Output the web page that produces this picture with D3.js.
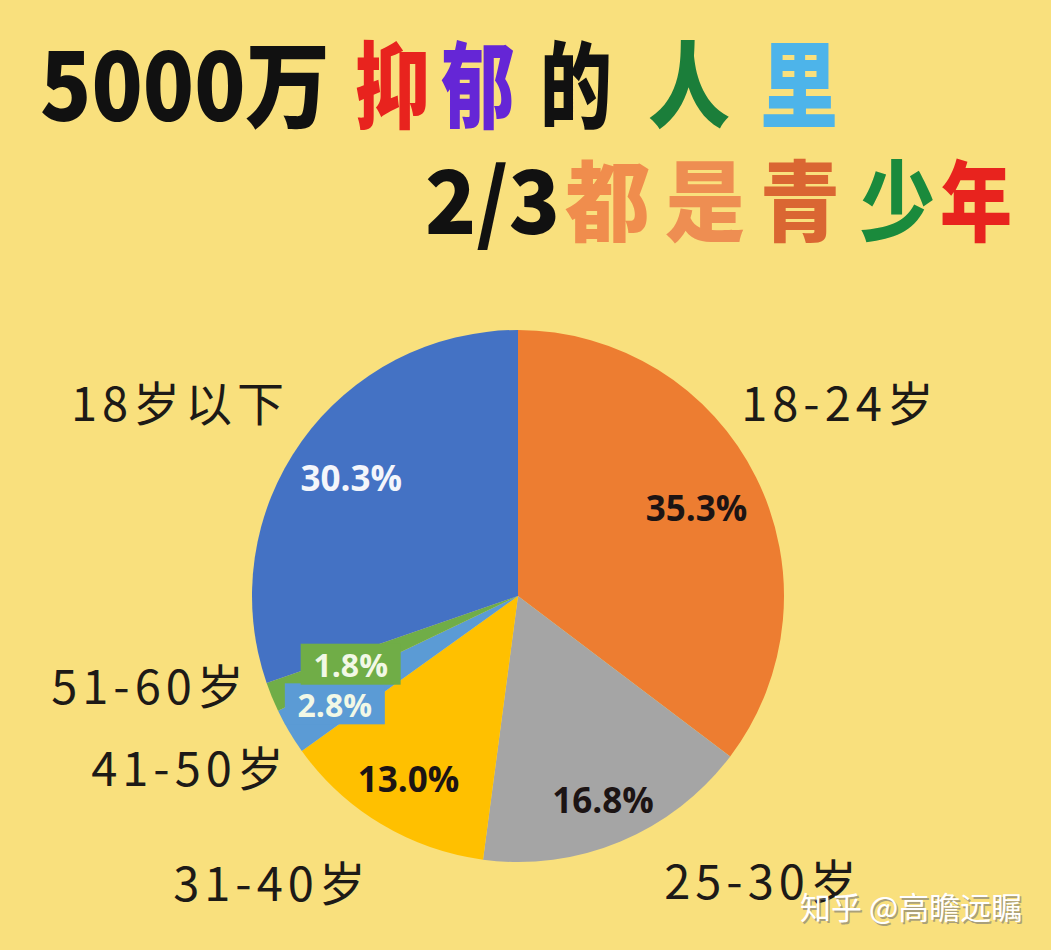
<!DOCTYPE html>
<html><head><meta charset="utf-8">
<script src="https://cdn.jsdelivr.net/npm/d3@7"></script>
<style>
html,body{margin:0;padding:0;background:#F9E07D;}
svg{display:block;}
</style></head>
<body>
<svg id="chart" width="1051" height="950"></svg>
<script>
// ---- data ----
const categories = ["18-24岁", "25-30岁", "31-40岁", "41-50岁", "51-60岁", "18岁以下"];
const values = [35.3, 16.8, 13.0, 2.8, 1.8, 30.3];
const percentLabels = ["35.3%", "16.8%", "13.0%", "2.8%", "1.8%", "30.3%"];
const titleLine1 = ["5000万", "抑", "郁", "的", "人", "里"];
const titleLine2 = ["2/3", "都", "是", "青", "少", "年"];
const watermark = "知乎 @高瞻远瞩";

// ---- styling / layout ----
const sliceColors = ["#ED7D31", "#A5A5A5", "#FFC000", "#5B9BD5", "#70AD47", "#4472C4"];
const pctColors = ["#1c1414", "#1c1414", "#1c1414", "#F2F8E6", "#F2F8E6", "#F4F6FB"];
const pctRadius = [0.75, 0.83, 0.80, 0.80, 0.68, 0.77];
const pctBoxed = [false, false, false, true, true, false];
const outerLabelPos = [[840, 400], [763, 878], [272, 880], [190, 765], [150, 683], [180, 400]];
const line1Colors = ["#111", "#E8231E", "#6526D6", "#111", "#1B7E3A", "#4DB4EA"];
const line1X = [[40, 330], [355, 430], [441, 515], [540, 612], [648, 730], [760, 838]];
const line2Colors = ["#111", "#F08D4D", "#EE8E52", "#DA6632", "#1A8A3C", "#E8231E"];
const line2X = [[425, 560], [565, 650], [665, 745], [760, 840], [860, 935], [940, 1012]];

const svg = d3.select("#chart");
svg.append("rect").attr("width", 1051).attr("height", 950).attr("fill", "#F9E07D");

// title
function titleLine(parts, xs, colors, baseline, size) {
  svg.append("g").selectAll("text").data(parts).join("text")
    .attr("x", (d, i) => xs[i][0])
    .attr("y", baseline)
    .attr("textLength", (d, i) => xs[i][1] - xs[i][0])
    .attr("lengthAdjust", "spacingAndGlyphs")
    .attr("font-family", "'Noto Sans CJK SC', 'Noto Sans', sans-serif")
    .attr("font-weight", 900)
    .attr("font-size", size)
    .attr("fill", (d, i) => colors[i])
    .text(d => d);
}
titleLine(titleLine1, line1X, line1Colors, 121, 94);
titleLine(titleLine2, line2X, line2Colors, 234, 88);

// pie
const cx = 518, cy = 596, R = 266;
const pie = d3.pie().sort(null).value(d => d)(values);
const arc = d3.arc().innerRadius(0).outerRadius(R);
const g = svg.append("g").attr("transform", `translate(${cx},${cy})`);
g.selectAll("path").data(pie).join("path")
  .attr("d", arc)
  .attr("fill", (d, i) => sliceColors[i]);

// percent labels
const pl = g.selectAll("g.pct").data(pie).join("g").attr("class", "pct")
  .attr("transform", (d, i) => {
    const a = (d.startAngle + d.endAngle) / 2, r = R * pctRadius[i];
    return `translate(${r * Math.sin(a)},${-r * Math.cos(a)})`;
  });
pl.each(function(d, i) {
  const el = d3.select(this);
  if (pctBoxed[i]) {
    el.append("rect").attr("x", -50).attr("y", -21).attr("width", 100).attr("height", 41)
      .attr("fill", sliceColors[i]);
  }
  el.append("text")
    .attr("text-anchor", "middle")
    .attr("dominant-baseline", "central")
    .attr("font-family", "'Open Sans', 'Noto Sans', sans-serif")
    .attr("font-weight", 700)
    .attr("font-size", i === 3 || i === 4 ? 32 : 35)
    .attr("fill", pctColors[i])
    .text(percentLabels[i]);
});

// outer category labels
svg.append("g").selectAll("text").data(categories).join("text")
  .attr("x", (d, i) => outerLabelPos[i][0])
  .attr("y", (d, i) => outerLabelPos[i][1])
  .attr("text-anchor", "middle")
  .attr("dominant-baseline", "central")
  .attr("font-family", "'Noto Sans CJK SC', sans-serif")
  .attr("font-weight", 400)
  .attr("font-size", 47)
  .attr("letter-spacing", 5)
  .attr("fill", "#1d1a17")
  .text(d => d);

// watermark
svg.append("text")
  .attr("x", 800).attr("y", 919)
  .attr("font-family", "'Noto Sans CJK SC', sans-serif")
  .attr("font-size", 31)
  .attr("fill", "#777")
  .attr("transform", "translate(1.5,1.5)")
  .attr("opacity", 0.6)
  .text(watermark);
svg.append("text")
  .attr("x", 800).attr("y", 919)
  .attr("font-family", "'Noto Sans CJK SC', sans-serif")
  .attr("font-size", 31)
  .attr("fill", "#ffffff")
  .text(watermark);
</script>
</body></html>
